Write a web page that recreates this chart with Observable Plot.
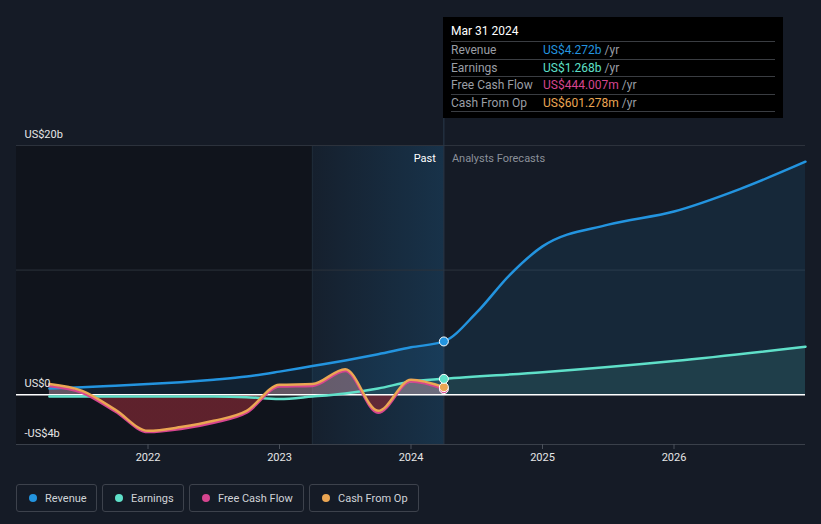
<!DOCTYPE html>
<html>
<head>
<meta charset="utf-8">
<script src="https://cdn.jsdelivr.net/npm/d3@7"></script>
<script src="https://cdn.jsdelivr.net/npm/@observablehq/plot@0.6"></script>
<style>
  html, body { margin: 0; padding: 0; background: #151b26; }
  body { width: 821px; height: 524px; position: relative; overflow: hidden; font-family: Roboto, "Open Sans", sans-serif; }
  #chart { position: absolute; left: 0; top: 0; }
  #tooltip { position: absolute; left: 443px; top: 17px; width: 340px; height: 101px; background: #000; box-sizing: border-box; padding: 0 8px; }
  #tooltip .title { color: #fff; font-size: 12px; height: 24px; line-height: 28px; border-bottom: 1px solid #3a3d42; }
  #tooltip .row { height: 16.5px; line-height: 17px; font-size: 12px; border-bottom: 1px solid #3a3d42; display: flex; }
  #tooltip .lab { color: #9a9ea5; width: 92px; }
  #tooltip .unit { color: #9a9ea5; }
  #legend { position: absolute; left: 16px; top: 484px; display: flex; gap: 5px; }
  #legend .item { height: 28px; box-sizing: border-box; border: 1px solid #3d424c; border-radius: 3px; display: flex; align-items: center; padding: 0 0 0 12px; font-size: 11px; color: #d0d3d8; }
  #legend .dot { width: 8px; height: 8px; border-radius: 50%; margin-right: 8px; flex: none; }
</style>
</head>
<body>
<div id="chart"></div>
<div id="tooltip"></div>
<div id="legend"></div>
<script>
// ---- data (US$ billions, x in decimal years) ----
const pastDates      = [2021.25, 2021.5, 2021.75, 2022.0, 2022.25, 2022.5, 2022.75, 2023.0, 2023.25, 2023.5, 2023.75, 2024.0, 2024.25];
const revenuePast    = [0.5, 0.6, 0.72, 0.85, 1.0, 1.2, 1.45, 1.85, 2.3, 2.75, 3.25, 3.8, 4.272];
const earningsPast   = [-0.15, -0.15, -0.15, -0.15, -0.15, -0.15, -0.2, -0.35, -0.15, 0.1, 0.5, 1.05, 1.268];
const fcfPast        = [0.7, 0.15, -1.35, -3.0, -2.75, -2.25, -1.45, 0.65, 0.7, 1.9, -1.45, 1.05, 0.444];
const cfoPast        = [0.85, 0.3, -1.2, -2.9, -2.6, -2.1, -1.3, 0.8, 0.85, 2.05, -1.3, 1.2, 0.601];
const revForecastDates = [2024.5, 2024.75, 2025.0, 2025.5, 2026.0, 2026.5, 2027.0];
const revenueForecast  = [6.6, 9.6, 11.9, 13.65, 14.7, 16.5, 18.7];
const earnForecastDates = [2025.0, 2026.0, 2027.0];
const earningsForecast  = [1.8, 2.7, 3.85];

const xTicks = [2022, 2023, 2024, 2025, 2026];
const yLabelValues = [20, 0, -4];
const yLabelTexts  = ["US$20b", "US$0", "-US$4b"];
const gridValues = [10, 20];

const seriesNames  = ["Revenue", "Earnings", "Free Cash Flow", "Cash From Op"];
const seriesColors = ["#2394df", "#5fe0c9", "#d6458f", "#eba653"];
const legendWidths = [81, 82, 115, 110];
const tooltipDate   = "Mar 31 2024";
const tooltipValues = ["US$4.272b", "US$1.268b", "US$444.007m", "US$601.278m"];

// ---- derived tables ----
const lastPast = pastDates[pastDates.length - 1];
const highlightStart = lastPast - 1;
const xStart = 2021, xEnd = 2027;
const yMin = -4, yMax = 20;

const revenue = pastDates.map((d, i) => ({x: d, y: revenuePast[i]}))
  .concat(revForecastDates.map((d, i) => ({x: d, y: revenueForecast[i]})));
const earnings = pastDates.map((d, i) => ({x: d, y: earningsPast[i]}))
  .concat(earnForecastDates.map((d, i) => ({x: d, y: earningsForecast[i]})));
const fcf = pastDates.map((d, i) => ({x: d, y: fcfPast[i]}));
const cfo = pastDates.map((d, i) => ({x: d, y: cfoPast[i]}));
const lastPoints = [
  {x: lastPast, y: fcfPast.at(-1), c: seriesColors[2]},
  {x: lastPast, y: cfoPast.at(-1), c: seriesColors[3]},
  {x: lastPast, y: earningsPast.at(-1), c: seriesColors[1]},
  {x: lastPast, y: revenuePast.at(-1), c: seriesColors[0]}
];

const NS = "http://www.w3.org/2000/svg";
function el(name, attrs) {
  const e = document.createElementNS(NS, name);
  for (const k in attrs) e.setAttribute(k, attrs[k]);
  return e;
}
function defsMark(index, scales) {
  const g = el("g", {});
  const defs = el("defs", {});
  const hg = el("linearGradient", {id: "hlGrad", x1: 0, x2: 1, y1: 0, y2: 0});
  hg.appendChild(el("stop", {offset: 0, "stop-color": "#2394df", "stop-opacity": 0.04}));
  hg.appendChild(el("stop", {offset: 1, "stop-color": "#2394df", "stop-opacity": 0.19}));
  defs.appendChild(hg);
  const top = scales.y(yMax), bot = scales.y(yMin), zero = scales.y(0);
  const off = (zero - top) / (bot - top);
  const fg = el("linearGradient", {id: "fcfGrad", gradientUnits: "userSpaceOnUse", x1: 0, x2: 0, y1: top, y2: bot});
  fg.appendChild(el("stop", {offset: 0, "stop-color": "#b58a96", "stop-opacity": 0.5}));
  fg.appendChild(el("stop", {offset: off, "stop-color": "#b58a96", "stop-opacity": 0.5}));
  fg.appendChild(el("stop", {offset: off, "stop-color": "#8e2a36", "stop-opacity": 0.62}));
  fg.appendChild(el("stop", {offset: 1, "stop-color": "#8e2a36", "stop-opacity": 0.62}));
  defs.appendChild(fg);
  g.appendChild(defs);
  return g;
}

const regions = [
  {x1: xStart, x2: highlightStart, fill: "#10141c"},
  {x1: highlightStart, x2: lastPast, fill: "url(#hlGrad)"}
];

const chart = Plot.plot({
  width: 821,
  height: 470,
  marginLeft: 16,
  marginRight: 16,
  marginTop: 17,
  marginBottom: 26,
  style: {background: "transparent", fontFamily: "Roboto, 'Open Sans', sans-serif", overflow: "visible"},
  x: {domain: [xStart, xEnd], axis: null},
  y: {domain: [yMin, yMax], range: [444, 145], axis: null},
  marks: [
    defsMark,
    Plot.rect(regions, {x1: "x1", x2: "x2", y1: yMin, y2: yMax, fill: d => d.fill}),
    Plot.ruleX([highlightStart], {y1: yMin, y2: yMax, stroke: "#1f2c3a", strokeWidth: 1}),
    Plot.ruleY(gridValues, {x1: xStart, x2: xEnd, stroke: "#2c323c", strokeWidth: 1}),
    Plot.ruleY([yMin], {x1: xStart, x2: xEnd, stroke: "#3a404a", strokeWidth: 1}),
    Plot.ruleX([lastPast], {stroke: "#2a3a4c", strokeWidth: 1}),
    Plot.areaY(revenue, {x: "x", y1: 0, y2: "y", curve: "monotone-x", fill: seriesColors[0], fillOpacity: 0.11}),
    Plot.areaY(earnings, {x: "x", y1: 0, y2: "y", curve: "monotone-x", fill: seriesColors[1], fillOpacity: 0.12}),
    Plot.areaY(fcf, {x: "x", y1: 0, y2: "y", curve: "monotone-x", fill: "url(#fcfGrad)"}),
    Plot.ruleY([0], {x1: xStart, x2: xEnd, stroke: "#ffffff", strokeWidth: 1.5}),
    Plot.line(revenue, {x: "x", y: "y", curve: "monotone-x", stroke: seriesColors[0], strokeWidth: 2.5}),
    Plot.line(earnings, {x: "x", y: "y", curve: "monotone-x", stroke: seriesColors[1], strokeWidth: 2.5}),
    Plot.line(fcf, {x: "x", y: "y", curve: "monotone-x", stroke: seriesColors[2], strokeWidth: 2.5}),
    Plot.line(cfo, {x: "x", y: "y", curve: "monotone-x", stroke: seriesColors[3], strokeWidth: 2.5}),
    Plot.dot(lastPoints, {x: "x", y: "y", r: 4.5, fill: d => d.c, stroke: "#ffffff", strokeWidth: 1}),
    Plot.text(yLabelValues, {x: xStart, y: d => d, text: (d, i) => yLabelTexts[i], dx: 8, dy: -8, textAnchor: "start", lineAnchor: "bottom", fill: "#e6e6e6", fontSize: 11}),
    Plot.text(["Past"], {x: lastPast, y: yMax, text: d => d, dx: -8, dy: 16, textAnchor: "end", lineAnchor: "bottom", fill: "#ffffff", fontSize: 11}),
    Plot.text(["Analysts Forecasts"], {x: lastPast, y: yMax, text: d => d, dx: 8, dy: 16, textAnchor: "start", lineAnchor: "bottom", fill: "#8b9099", fontSize: 11}),
    Plot.axisX({ticks: xTicks, tickFormat: d => String(d), tickSize: 5, tickPadding: 4, stroke: "#4a505a", fill: "#e6e6e6", fontSize: 11, label: null})
  ]
});
document.getElementById("chart").appendChild(chart);

// tooltip
const tt = document.getElementById("tooltip");
const t = document.createElement("div");
t.className = "title"; t.textContent = tooltipDate; tt.appendChild(t);
seriesNames.forEach((n, i) => {
  const r = document.createElement("div"); r.className = "row";
  const l = document.createElement("span"); l.className = "lab"; l.textContent = n;
  const v = document.createElement("span"); v.style.color = seriesColors[i]; v.textContent = tooltipValues[i];
  const u = document.createElement("span"); u.className = "unit"; u.textContent = "\u00a0/yr";
  r.append(l, v, u); tt.appendChild(r);
});

// legend
const lg = document.getElementById("legend");
seriesNames.forEach((n, i) => {
  const it = document.createElement("div"); it.className = "item";
  it.style.width = legendWidths[i] + "px";
  const d = document.createElement("span"); d.className = "dot"; d.style.background = seriesColors[i];
  const s = document.createElement("span"); s.textContent = n; s.style.whiteSpace = "nowrap";
  it.append(d, s); lg.appendChild(it);
});
</script>
</body>
</html>
